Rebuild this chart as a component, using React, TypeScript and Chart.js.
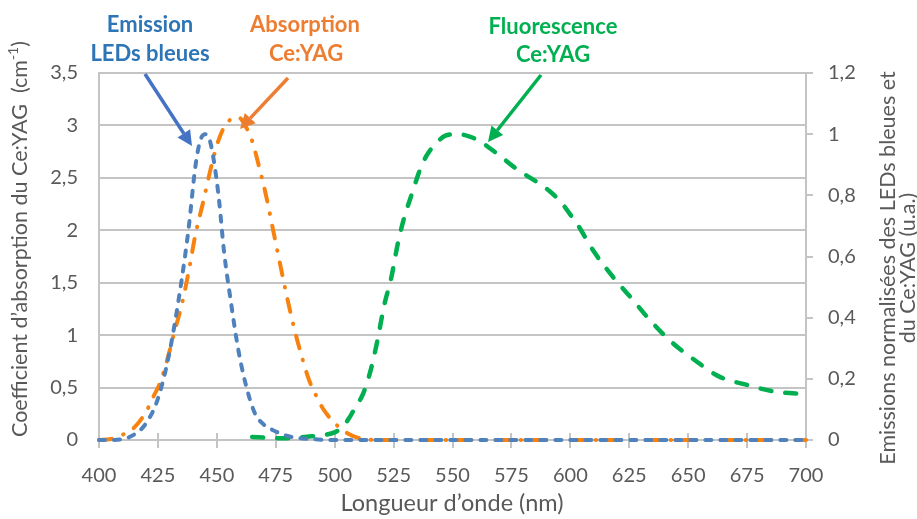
import React, { useEffect, useRef } from 'react';
import { Chart, registerables } from 'chart.js';

Chart.register(...registerables);

// ---- Data ----
const xTickValues = [400, 425, 450, 475, 500, 525, 550, 575, 600, 625, 650, 675, 700];

const emissionNm = [400, 405, 410, 415, 420, 425, 430, 435, 438, 441, 443, 445, 447, 449, 451, 453, 456, 459, 462, 466, 470, 475, 480, 485, 490, 500, 525, 550, 575, 600, 625, 650, 675, 700];
const emissionVal = [0, 0, 0.003, 0.018, 0.055, 0.135, 0.29, 0.52, 0.69, 0.9, 0.98, 1.0, 0.98, 0.9, 0.78, 0.62, 0.45, 0.3, 0.19, 0.09, 0.05, 0.028, 0.013, 0.006, 0.003, 0, 0, 0, 0, 0, 0, 0, 0, 0];

const absorptionNm = [400, 405, 410, 415, 420, 423, 426, 429, 432, 435, 438, 441, 444, 447, 450, 453, 456, 459, 462, 465, 468, 471, 474, 477, 480, 483, 486, 489, 492, 495, 498, 501, 505, 510, 520, 550, 600, 650, 700];
const absorptionVal = [0, 0.01, 0.05, 0.12, 0.27, 0.41, 0.55, 0.77, 1.03, 1.28, 1.6, 1.97, 2.25, 2.55, 2.81, 2.98, 3.06, 3.08, 3.0, 2.85, 2.6, 2.32, 1.99, 1.66, 1.34, 1.05, 0.8, 0.58, 0.43, 0.3, 0.21, 0.14, 0.07, 0.02, 0, 0, 0, 0, 0];

const fluoNm = [465, 470, 475, 480, 485, 490, 495, 500, 503, 506, 509, 512, 515, 518, 521, 524, 527, 530, 533, 536, 539, 543, 547, 552, 557, 562, 566, 570, 576, 581, 586, 591, 596, 600, 603, 610, 618, 626, 634, 643, 653, 663, 675, 687, 700];
const fluoVal = [0.01, 0.008, 0.006, 0.006, 0.008, 0.012, 0.016, 0.025, 0.04, 0.07, 0.11, 0.15, 0.22, 0.32, 0.44, 0.53, 0.65, 0.74, 0.81, 0.88, 0.93, 0.97, 0.995, 1.0, 0.993, 0.975, 0.953, 0.93, 0.893, 0.867, 0.843, 0.815, 0.778, 0.737, 0.705, 0.616, 0.534, 0.463, 0.39, 0.32, 0.26, 0.208, 0.18, 0.158, 0.15];

const FONT = 'Lato, "Open Sans", sans-serif';
const GRID = '#C4C4C4';
const TXT = '#595959';
const BLUE_LINE = '#4F81BD';
const ORANGE_LINE = '#F7820F';
const GREEN_LINE = '#00B050';
const BLUE_TXT = '#2E75B6';
const ORANGE_TXT = '#ED7D31';
const GREEN_TXT = '#00B050';

const fmt = (v: number) => String(Number(v.toFixed(2))).replace('.', ',');

function toXY(xs: number[], ys: number[]) {
  return xs.map((x, i) => ({ x, y: ys[i] }));
}

function arrow(ctx: CanvasRenderingContext2D, x1: number, y1: number, x2: number, y2: number, color: string) {
  const ang = Math.atan2(y2 - y1, x2 - x1);
  const hl = 15, hw = 7.5;
  const bx = x2 - hl * Math.cos(ang);
  const by = y2 - hl * Math.sin(ang);
  ctx.save();
  ctx.strokeStyle = color;
  ctx.fillStyle = color;
  ctx.lineWidth = 3.5;
  ctx.beginPath();
  ctx.moveTo(x1, y1);
  ctx.lineTo(bx, by);
  ctx.stroke();
  ctx.beginPath();
  ctx.moveTo(x2, y2);
  ctx.lineTo(bx + hw * Math.sin(ang), by - hw * Math.cos(ang));
  ctx.lineTo(bx - hw * Math.sin(ang), by + hw * Math.cos(ang));
  ctx.closePath();
  ctx.fill();
  ctx.restore();
}

const overlay = {
  id: 'overlay',
  beforeDatasetsDraw(chart: any) {
    const ctx = chart.ctx as CanvasRenderingContext2D;
    const area = chart.chartArea;
    const xs = chart.scales.x;
    ctx.save();
    ctx.strokeStyle = GRID;
    ctx.lineWidth = 2;
    xTickValues.forEach((v) => {
      const px = Math.round(xs.getPixelForValue(v));
      ctx.beginPath();
      ctx.moveTo(px, area.bottom - 7);
      ctx.lineTo(px, area.bottom);
      ctx.stroke();
    });
    ctx.restore();
  },
  afterDraw(chart: any) {
    const ctx = chart.ctx as CanvasRenderingContext2D;
    ctx.save();
    // x title
    ctx.fillStyle = TXT;
    ctx.font = `23.5px ${FONT}`;
    ctx.textAlign = 'center';
    ctx.textBaseline = 'middle';
    ctx.fillText('Longueur d’onde (nm)', 452, 503);

    // left title with superscript
    ctx.save();
    ctx.translate(20, 239);
    ctx.rotate(-Math.PI / 2);
    ctx.textAlign = 'left';
    ctx.textBaseline = 'middle';
    const main = 'Coefficient d’absorption du Ce:YAG  (cm';
    const sup = '-1';
    const end = ')';
    ctx.font = `21.5px ${FONT}`;
    const w1 = ctx.measureText(main).width;
    const w3 = ctx.measureText(end).width;
    ctx.font = `14px ${FONT}`;
    const w2 = ctx.measureText(sup).width;
    let sx = -(w1 + w2 + w3) / 2;
    ctx.font = `21.5px ${FONT}`;
    ctx.fillText(main, sx, 0);
    sx += w1;
    ctx.font = `14px ${FONT}`;
    ctx.fillText(sup, sx, -7);
    sx += w2;
    ctx.font = `21.5px ${FONT}`;
    ctx.fillText(end, sx, 0);
    ctx.restore();

    // right title
    ctx.save();
    ctx.translate(888, 268);
    ctx.rotate(-Math.PI / 2);
    ctx.textAlign = 'center';
    ctx.textBaseline = 'middle';
    ctx.font = `21.5px ${FONT}`;
    ctx.fillText('Emissions normalisées des LEDs bleues et', 0, 0);
    ctx.fillText('du Ce:YAG (u.a.)', 0, 20);
    ctx.restore();

    // annotations
    ctx.font = `bold 22px ${FONT}`;
    ctx.textAlign = 'center';
    ctx.textBaseline = 'middle';
    ctx.fillStyle = BLUE_TXT;
    ctx.fillText('Emission', 150, 25);
    ctx.fillText('LEDs bleues', 150, 54);
    ctx.fillStyle = ORANGE_TXT;
    ctx.fillText('Absorption', 305, 25);
    ctx.fillText('Ce:YAG', 306, 54);
    ctx.fillStyle = GREEN_TXT;
    ctx.fillText('Fluorescence', 553, 27);
    ctx.fillText('Ce:YAG', 553, 55);

    arrow(ctx, 145, 74, 192, 146, '#4472C4');
    arrow(ctx, 288, 78, 240, 129, ORANGE_TXT);
    arrow(ctx, 541, 75, 488, 142, GREEN_TXT);
    ctx.restore();
  },
};

export default function App() {
  const ref = useRef<HTMLCanvasElement>(null);
  useEffect(() => {
    if (!ref.current) return;
    const chart = new Chart(ref.current, {
      type: 'line',
      data: {
        datasets: [
          {
            label: 'Emission LEDs bleues',
            data: toXY(emissionNm, emissionVal),
            yAxisID: 'y2',
            borderColor: BLUE_LINE,
            borderWidth: 4,
            borderDash: [6, 9],
            borderCapStyle: 'round',
            pointRadius: 0,
            cubicInterpolationMode: 'monotone',
            fill: false,
            clip: false,
            order: 0,
          },
          {
            label: 'Fluorescence Ce:YAG',
            data: toXY(fluoNm, fluoVal),
            yAxisID: 'y2',
            borderColor: GREEN_LINE,
            borderWidth: 4.5,
            borderDash: [11, 14],
            borderCapStyle: 'round',
            pointRadius: 0,
            cubicInterpolationMode: 'monotone',
            fill: false,
            clip: false,
            order: 1,
          },
          {
            label: 'Absorption Ce:YAG',
            data: toXY(absorptionNm, absorptionVal),
            yAxisID: 'y',
            borderColor: ORANGE_LINE,
            borderWidth: 4,
            borderDash: [13, 12, 0.5, 12],
            borderCapStyle: 'round',
            pointRadius: 0,
            cubicInterpolationMode: 'monotone',
            fill: false,
            clip: false,
            order: 2,
          },
        ],
      },
      options: {
        responsive: false,
        animation: false,
        layout: { padding: { top: 73, left: 0, right: 0, bottom: 0 } },
        plugins: { legend: { display: false }, tooltip: { enabled: false } },
        scales: {
          x: {
            type: 'linear',
            min: 400,
            max: 700,
            afterBuildTicks: (s: any) => {
              s.ticks = xTickValues.map((v) => ({ value: v }));
            },
            ticks: {
              color: TXT,
              font: { family: FONT, size: 20 },
              padding: 16,
              maxRotation: 0,
              callback: (v: any) => String(v),
            },
            grid: { display: true, drawOnChartArea: false, color: GRID, lineWidth: 2, tickLength: 8 },
            border: { display: true, color: GRID, width: 2 },
            afterFit: (s: any) => {
              s.height = 79;
            },
          },
          y: {
            position: 'left',
            min: 0,
            max: 3.5,
            ticks: {
              stepSize: 0.5,
              color: TXT,
              font: { family: FONT, size: 20 },
              padding: 21,
              callback: (v: any) => fmt(Number(v)),
            },
            grid: { color: GRID, lineWidth: 2, drawTicks: false },
            border: { display: true, color: GRID, width: 2 },
            afterFit: (s: any) => {
              s.width = 99;
            },
          },
          y2: {
            position: 'right',
            min: 0,
            max: 1.2,
            ticks: {
              stepSize: 0.2,
              color: TXT,
              font: { family: FONT, size: 20 },
              padding: 15,
              callback: (v: any) => fmt(Number(v)),
            },
            grid: { drawOnChartArea: false, color: GRID, lineWidth: 2, tickLength: 7 },
            border: { display: true, color: GRID, width: 2 },
            afterFit: (s: any) => {
              s.width = 111;
            },
          },
        },
      },
      plugins: [overlay],
    } as any);
    return () => chart.destroy();
  }, []);
  return (
    <div style={{ position: 'fixed', left: 0, top: 0, width: 917, height: 519, background: '#fff' }}>
      <canvas ref={ref} width={917} height={519} style={{ width: 917, height: 519 }} />
    </div>
  );
}
